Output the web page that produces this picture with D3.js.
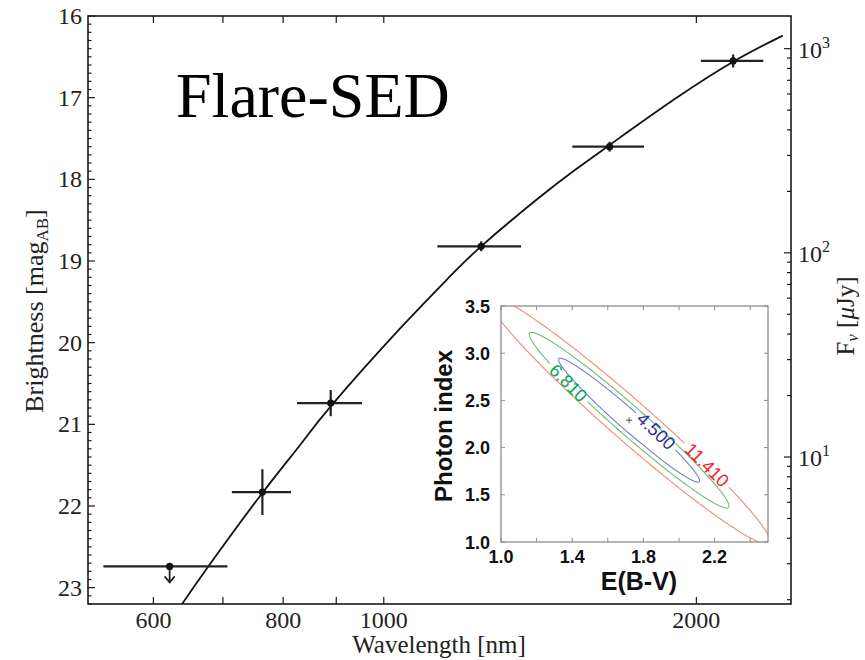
<!DOCTYPE html>
<html><head><meta charset="utf-8">
<script src="https://cdn.jsdelivr.net/npm/d3@7"></script>
<style>body{margin:0;background:#fff} svg{display:block}</style>
</head><body><svg id="c" width="865" height="660"></svg>
<script>
// ---------- main SED data ----------
const filters = ["r'", "i'", "z'", "J", "H", "Ks"];
const wavelength = [622, 764, 889, 1241, 1650, 2170];
const wavelengthErr = [85, 50, 64, 115, 131, 150];
const magnitude = [22.74, 21.83, 20.74, 18.82, 17.60, 16.55];
const magnitudeErr = [0, 0.28, 0.16, 0.06, 0.06, 0.08];
const isUpperLimit = [true, false, false, false, false, false];

const modelWavelength = [630, 676, 764, 831, 889, 1038, 1160, 1241, 1400, 1530, 1650, 1900, 2170, 2422];
const modelMagnitude = [23.32, 22.76, 21.84, 21.25, 20.78, 19.82, 19.18, 18.82, 18.26, 17.88, 17.58, 17.03, 16.56, 16.24];

const xTicks = [600, 700, 800, 900, 1000, 2000];
const xTickLabels = [600, 800, 1000, 2000];
const magTicks = [16, 17, 18, 19, 20, 21, 22, 23];
const fluxMajorTicks = [10, 100, 1000];
const fluxTickExponents = ["1", "2", "3"];

// ---------- inset data ----------
const ebvTicks = [1.0, 1.2, 1.4, 1.6, 1.8, 2.0, 2.2, 2.4];
const ebvTickLabels = [1.0, 1.4, 1.8, 2.2];
const gammaTicks = [1.0, 1.5, 2.0, 2.5, 3.0, 3.5];
const bestFit = [1.72, 2.29];
const chi2Min = 2.2;
const contourLevels = [4.5, 6.81, 11.41];
const contourLabels = ["4.500", "6.810", "11.410"];
const majorAxis = [0.26, -0.43];   // per unit sqrt(delta chi2)
const minorAxis = [0.025, 0.052];
const labelParam = [73, 238, 62];  // where along each contour the label sits (deg)

// ---------- drawing ----------
const svg = d3.select('#c');
const serif = "'Liberation Serif','Times New Roman',serif";
const sans = "'Liberation Sans',Arial,Helvetica,sans-serif";
const M = {l: 88, r: 791, t: 16, b: 604};
const x = d3.scaleLog().domain([519, 2467]).range([M.l, M.r]);
const y = d3.scaleLinear().domain([16, 23.2]).range([M.t, M.b]);
const magToFlux = m => Math.pow(10, (23.9 - m) / 2.5);
const yF = d3.scaleLog().domain([magToFlux(16), magToFlux(23.2)]).range([M.t, M.b]);

const defs = svg.append('defs');
defs.append('clipPath').attr('id', 'mainClip').append('rect')
  .attr('x', M.l).attr('y', M.t).attr('width', M.r - M.l).attr('height', M.b - M.t);

const ink = '#1a1a1a';
const g = svg.append('g');

// ticks
const tk = g.append('g').attr('stroke', ink).attr('stroke-width', 1.2);
xTicks.forEach(t => {
  tk.append('line').attr('x1', x(t)).attr('x2', x(t)).attr('y1', M.b).attr('y2', M.b - 7);
  tk.append('line').attr('x1', x(t)).attr('x2', x(t)).attr('y1', M.t).attr('y2', M.t + 7);
});
d3.range(160, 233).forEach(i => {
  const m = i / 10;
  const major = i % 10 === 0;
  tk.append('line').attr('x1', M.l).attr('x2', M.l + (major ? 7 : 3.5)).attr('y1', y(m)).attr('y2', y(m));
});
const fluxMinor = [];
[1, 10, 100, 1000].forEach(dec => d3.range(1, 10).forEach(k => fluxMinor.push(dec * k)));
fluxMinor.filter(f => f >= yF.domain()[1] && f <= yF.domain()[0]).forEach(f => {
  const major = fluxMajorTicks.includes(f);
  tk.append('line').attr('x1', M.r).attr('x2', M.r - (major ? 7 : 4)).attr('y1', yF(f)).attr('y2', yF(f));
});

// model curve
g.append('path').datum(modelWavelength.map((w, i) => [w, modelMagnitude[i]]))
  .attr('clip-path', 'url(#mainClip)')
  .attr('fill', 'none').attr('stroke', '#111').attr('stroke-width', 1.8)
  .attr('d', d3.line().x(d => x(d[0])).y(d => y(d[1])).curve(d3.curveNatural));

// data points
const pts = g.append('g').attr('stroke', '#222').attr('stroke-width', 2.2);
wavelength.forEach((w, i) => {
  const m = magnitude[i];
  pts.append('line').attr('x1', x(w - wavelengthErr[i])).attr('x2', x(w + wavelengthErr[i]))
    .attr('y1', y(m)).attr('y2', y(m));
  if (magnitudeErr[i] > 0) {
    pts.append('line').attr('x1', x(w)).attr('x2', x(w))
      .attr('y1', y(m - magnitudeErr[i])).attr('y2', y(m + magnitudeErr[i]));
  }
  if (isUpperLimit[i]) {
    const px = x(w), py = y(m);
    pts.append('line').attr('x1', px).attr('x2', px).attr('y1', py).attr('y2', py + 16).attr('stroke-width', 1.8);
    pts.append('path').attr('fill', 'none').attr('stroke-width', 1.8)
      .attr('d', `M${px - 5},${py + 10} L${px},${py + 16} L${px + 5},${py + 10}`);
  }
  pts.append('circle').attr('cx', x(w)).attr('cy', y(m)).attr('r', 3.6).attr('fill', '#111').attr('stroke', 'none');
});

// frame
g.append('rect').attr('x', M.l).attr('y', M.t).attr('width', M.r - M.l).attr('height', M.b - M.t)
  .attr('fill', 'none').attr('stroke', ink).attr('stroke-width', 1.6);

// tick labels
const lab = g.append('g').attr('font-family', serif).attr('font-size', 24).attr('fill', '#222');
magTicks.forEach(t => lab.append('text').attr('x', 82).attr('y', y(t) + 8).attr('text-anchor', 'end').text(t));
xTickLabels.forEach(t => lab.append('text').attr('x', x(t)).attr('y', 628).attr('text-anchor', 'middle').text(t));
fluxMajorTicks.forEach((f, i) => {
  const t = lab.append('text').attr('x', 798).attr('y', yF(f) + 9);
  t.append('tspan').text('10');
  t.append('tspan').attr('font-size', 16).attr('dy', -10).text(fluxTickExponents[i]);
});

// axis titles
lab.append('text').attr('x', 439).attr('y', 653).attr('text-anchor', 'middle').attr('font-size', 25).text('Wavelength [nm]');
const yl = lab.append('text').attr('transform', 'translate(43,311) rotate(-90)').attr('text-anchor', 'middle').attr('font-size', 26);
yl.append('tspan').text('Brightness [mag');
yl.append('tspan').attr('font-size', 17).attr('dy', 5).text('AB');
yl.append('tspan').attr('dy', -5).text(']');
const rl = lab.append('text').attr('transform', 'translate(854,316) rotate(-90)').attr('text-anchor', 'middle').attr('font-size', 25);
rl.append('tspan').text('F');
rl.append('tspan').attr('font-size', 17).attr('font-style', 'italic').attr('dy', 4).text('ν');
rl.append('tspan').attr('dy', -4).text(' [');
rl.append('tspan').attr('font-style', 'italic').text('μ');
rl.append('tspan').text('Jy]');

// title
g.append('text').attr('x', 176).attr('y', 117).attr('font-family', serif).attr('font-size', 64).attr('fill', '#000').text('Flare-SED');

// ---------- inset ----------
const I = {l: 501, r: 768, t: 306, b: 542};
const ix = d3.scaleLinear().domain([1.0, 2.5]).range([I.l, I.r]);
const iy = d3.scaleLinear().domain([1.0, 3.5]).range([I.b, I.t]);
defs.append('clipPath').attr('id', 'insetClip').append('rect')
  .attr('x', I.l).attr('y', I.t).attr('width', I.r - I.l).attr('height', I.b - I.t);
const ig = svg.append('g');
ig.append('rect').attr('x', I.l).attr('y', I.t).attr('width', I.r - I.l).attr('height', I.b - I.t).attr('fill', '#fff');

const lineColors = ['#7b7bd0', '#72b872', '#f08a78'];
const textColors = ['#2e3192', '#00a651', '#ee1c24'];
function ellPt(level, tDeg) {
  const s = Math.sqrt(level - chi2Min), t = tDeg * Math.PI / 180;
  const e = bestFit[0] + s * (Math.cos(t) * majorAxis[0] + Math.sin(t) * minorAxis[0]);
  const p = bestFit[1] + s * (Math.cos(t) * majorAxis[1] + Math.sin(t) * minorAxis[1]);
  return [ix(e), iy(p)];
}
const cg = ig.append('g').attr('clip-path', 'url(#insetClip)');
contourLevels.forEach((lv, i) => {
  const c = ellPt(lv, labelParam[i]);
  const a = ellPt(lv, labelParam[i] - 0.5), b = ellPt(lv, labelParam[i] + 0.5);
  let ang = Math.atan2(b[1] - a[1], b[0] - a[0]) * 180 / Math.PI;
  if (ang > 90) ang -= 180; if (ang <= -90) ang += 180;
  const txt = cg.append('text').attr('transform', `translate(${c[0]},${c[1]}) rotate(${ang})`)
    .attr('text-anchor', 'middle').attr('dy', '0.35em')
    .attr('font-family', sans).attr('font-size', 18).attr('fill', textColors[i]).text(contourLabels[i]);
  const w = txt.node().getComputedTextLength();
  const r = w / 2 + 4;
  const ptsE = d3.range(0, 360.01, 0.5).map(d => ellPt(lv, labelParam[i] + d))
    .filter(p => Math.hypot(p[0] - c[0], p[1] - c[1]) > r);
  cg.insert('path', 'text').datum(ptsE).attr('fill', 'none').attr('stroke', lineColors[i]).attr('stroke-width', 1.1)
    .attr('d', d3.line());
});
// best fit marker
const bf = [ix(bestFit[0]), iy(bestFit[1])];
ig.append('path').attr('d', `M${bf[0] - 3},${bf[1]} H${bf[0] + 3} M${bf[0]},${bf[1] - 3} V${bf[1] + 3}`)
  .attr('stroke', '#555').attr('stroke-width', 1);

// inset ticks & frame
const itk = ig.append('g').attr('stroke', '#8c8c8c').attr('stroke-width', 1);
ebvTicks.forEach(t => {
  itk.append('line').attr('x1', ix(t)).attr('x2', ix(t)).attr('y1', I.b).attr('y2', I.b - 4);
  itk.append('line').attr('x1', ix(t)).attr('x2', ix(t)).attr('y1', I.t).attr('y2', I.t + 4);
});
gammaTicks.forEach(t => {
  itk.append('line').attr('x1', I.l).attr('x2', I.l + 4).attr('y1', iy(t)).attr('y2', iy(t));
  itk.append('line').attr('x1', I.r).attr('x2', I.r - 4).attr('y1', iy(t)).attr('y2', iy(t));
});
ig.append('rect').attr('x', I.l).attr('y', I.t).attr('width', I.r - I.l).attr('height', I.b - I.t)
  .attr('fill', 'none').attr('stroke', '#8c8c8c').attr('stroke-width', 1.3);

const il = ig.append('g').attr('font-family', sans).attr('font-weight', 'bold').attr('fill', '#111');
ebvTickLabels.forEach(t => il.append('text').attr('x', ix(t)).attr('y', 563).attr('text-anchor', 'middle')
  .attr('font-size', 18).text(t.toFixed(1)));
gammaTicks.forEach(t => il.append('text').attr('x', 490).attr('y', iy(t) + 6.5).attr('text-anchor', 'end')
  .attr('font-size', 18).text(t.toFixed(1)));
il.append('text').attr('x', 639).attr('y', 590).attr('text-anchor', 'middle').attr('font-size', 25).text('E(B-V)');
il.append('text').attr('transform', 'translate(452,426) rotate(-90)').attr('text-anchor', 'middle')
  .attr('font-size', 24).text('Photon index');
</script>
</body></html>
